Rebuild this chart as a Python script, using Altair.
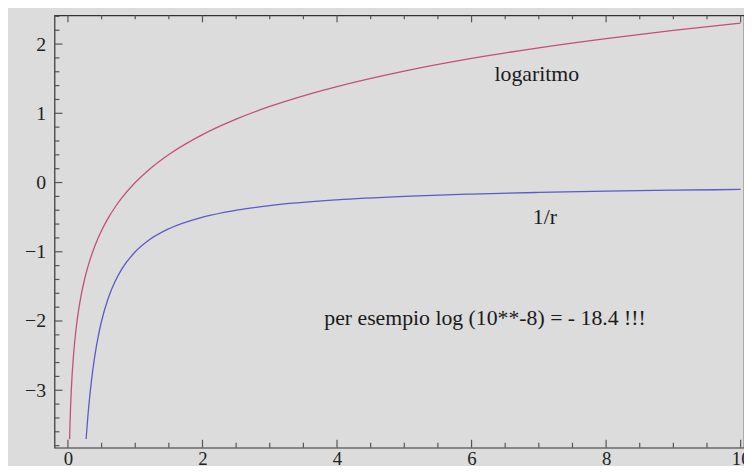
import altair as alt
import pandas as pd

# --- data ---
r_log = [0.0245, 0.03, 0.04, 0.05, 0.06, 0.08, 0.1, 0.13, 0.16, 0.2, 0.25, 0.3, 0.4, 0.5,
         0.6, 0.7, 0.8, 1.0, 1.2, 1.5, 2, 2.5, 3, 3.5, 4, 5, 6, 7, 8, 9, 10]
v_log = [-3.709, -3.507, -3.219, -2.996, -2.813, -2.526, -2.303, -2.040, -1.833, -1.609,
         -1.386, -1.204, -0.916, -0.693, -0.511, -0.357, -0.223, 0.0, 0.182, 0.405, 0.693,
         0.916, 1.099, 1.253, 1.386, 1.609, 1.792, 1.946, 2.079, 2.197, 2.303]

r_inv = [0.27, 0.3, 0.35, 0.4, 0.45, 0.5, 0.6, 0.7, 0.8, 1.0, 1.2, 1.5, 2, 2.5, 3, 4, 5,
         6, 7, 8, 9, 10]
v_inv = [-3.704, -3.333, -2.857, -2.5, -2.222, -2.0, -1.667, -1.429, -1.25, -1.0, -0.833,
         -0.667, -0.5, -0.4, -0.333, -0.25, -0.2, -0.167, -0.143, -0.125, -0.111, -0.1]

x_labels = [0, 2, 4, 6, 8, 10]
y_labels = [-3, -2, -1, 0, 1, 2]
x_major_ticks = [0, 2, 4, 6, 8, 10]
x_minor_ticks = [0.5, 1, 1.5, 2.5, 3, 3.5, 4.5, 5, 5.5, 6.5, 7, 7.5, 8.5, 9, 9.5]
y_major_ticks = [-3, -2, -1, 0, 1, 2]
y_minor_ticks = [-3.8, -3.6, -3.4, -3.2, -2.8, -2.6, -2.4, -2.2, -1.8, -1.6, -1.4, -1.2,
                 -0.8, -0.6, -0.4, -0.2, 0.2, 0.4, 0.6, 0.8, 1.2, 1.4, 1.6, 1.8, 2.2, 2.4]

notes = ["logaritmo", "1/r", "per esempio log (10**-8) = - 18.4 !!!"]
note_x = [6.97, 7.09, 6.2]
note_y = [1.57, -0.5, -1.96]

# --- layout ---
W, H = 697, 437
FONT = "'Liberation Serif', 'Times New Roman', Times, 'DejaVu Serif', serif"

xs = alt.Scale(domain=[-0.2, 10.05], nice=False, zero=False)
ys = alt.Scale(domain=[-3.83, 2.414], nice=False, zero=False)

df_log = pd.DataFrame({"r": r_log, "v": v_log})
df_inv = pd.DataFrame({"r": r_inv, "v": v_inv})

x_axis = alt.Axis(values=x_labels, format="d", ticks=False, tickSize=0, domain=False, grid=False,
                  labelFont=FONT, labelFontSize=19, labelColor="#222", labelPadding=2,
                  labelBaseline="top", title=None, labelFlush=False)
y_axis = alt.Axis(values=y_labels, format="d", ticks=False, tickSize=0, domain=False, grid=False,
                  labelFont=FONT, labelFontSize=20, labelColor="#222", labelPadding=9,
                  title=None)

log_line = alt.Chart(df_log).mark_line(color="#c0507a", strokeWidth=1.3, interpolate="monotone").encode(
    x=alt.X("r:Q", scale=xs, axis=x_axis),
    y=alt.Y("v:Q", scale=ys, axis=y_axis),
)
inv_line = alt.Chart(df_inv).mark_line(color="#5a5ac8", strokeWidth=1.3, interpolate="monotone").encode(
    x=alt.X("r:Q", scale=xs),
    y=alt.Y("v:Q", scale=ys),
)

TICK = "#555"


def xticks(vals, size, top):
    d = pd.DataFrame({"t": vals})
    if top:
        enc = dict(y=alt.value(0), y2=alt.value(size))
    else:
        enc = dict(y=alt.value(H), y2=alt.value(H - size))
    return alt.Chart(d).mark_rule(color=TICK, strokeWidth=1.2).encode(
        x=alt.X("t:Q", scale=xs), **enc)


def yticks(vals, size):
    d = pd.DataFrame({"t": vals})
    return alt.Chart(d).mark_rule(color=TICK, strokeWidth=1.2).encode(
        y=alt.Y("t:Q", scale=ys), x=alt.value(0), x2=alt.value(size))


df_notes = pd.DataFrame({"x": note_x, "y": note_y, "txt": notes})
texts = alt.Chart(df_notes).mark_text(font=FONT, fontSize=22, color="#1a1a1a",
                                      align="center", baseline="middle").encode(
    x=alt.X("x:Q", scale=xs), y=alt.Y("y:Q", scale=ys), text="txt:N")

chart = alt.layer(
    xticks(x_major_ticks, 8, False), xticks(x_minor_ticks, 5, False),
    xticks(x_major_ticks, 7, True), xticks(x_minor_ticks, 4, True),
    yticks(y_major_ticks, 8), yticks(y_minor_ticks, 5),
    log_line, inv_line, texts,
).properties(
    width=W, height=H,
    autosize=alt.AutoSizeParams(type="none"),
    padding={"left": 47, "top": 5, "right": 0, "bottom": 16},
    background="#dcdcdc",
).configure_view(stroke="#333", strokeWidth=1.2)

chart.save("out.html", embed_options={"renderer": "svg", "actions": False})
